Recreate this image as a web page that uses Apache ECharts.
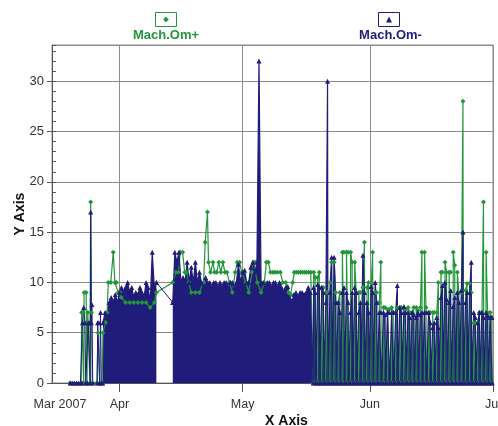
<!DOCTYPE html>
<html><head><meta charset="utf-8">
<script src="https://cdn.jsdelivr.net/npm/echarts@6/dist/echarts.min.js"></script>
<style>html,body{margin:0;padding:0;background:#fff}#c{width:498px;height:426px}</style>
</head><body><div id="c"></div>
<script>
// ---- data (x = days counted from 1 Mar 2007) ----
const seriesNames = ['Mach.Om+', 'Mach.Om-'];
const xTickLabels = ['Mar 2007', 'Apr', 'May', 'Jun', 'Jul'];
const xTickDays = [14.58, 31, 61, 92, 122];
const yMax = 33.6;

// Mach.Om+ : early spikes and the dense April / early-May part, [day, value]
const greenMain = [[19,0],[21.7,0],[21.8,7],[22.1,7],[22.3,0],[22.4,9],[22.9,9],[23.1,0],[23.3,7],[23.8,0],[24,18],[24.2,7],[24.4,0],[25.5,0],[25.8,5],[26.2,0],[26.8,0],
  [27,5],[27.6,6],[28,7],[28.3,10],[28.9,10],[29.5,13],[29.9,10],[30.3,10],[30.7,9],[31.1,9],[31.5,8.5],[32.5,8],[33.5,8],[34.5,8],[35.5,8],[36.5,8],[37.5,8],[38.5,7.5],[39.5,8],[40,9],
  [44,10],[44.8,11],[45.4,11],[45.8,13],[46.4,13],[46.9,11],[47.4,11],[47.9,10],[48.5,9],[49.5,9],[50.5,9],[51.5,10],[51.9,14],[52.45,17],[52.7,12],[53.2,11],[53.8,12],[54.2,11],[54.7,11],[55.2,12],[55.7,11],[56.2,12],[56.7,11],[57.2,11],[57.8,10],[58.5,9],[59.2,11],[59.7,12],[60.3,12],[60.8,11],[61.2,11],[61.8,10],[62.5,9],[63.3,11],[63.7,12],[64.1,12],[64.6,10],[65.5,9],[66.3,10],[66.8,12],[67.3,12],[67.8,11],[68.4,11],[68.9,11],[69.5,11],[70.2,11],[70.8,10],[71.5,10],[72.2,9],[72.7,8.8],[73.2,10],[73.6,11],[74.1,11],[74.6,11],[75.1,11],[75.6,11],[76.1,11],[76.6,11],[77.1,11],[77.6,11]];
// Mach.Om+ : daily readings from day 78 (17 May) to 121 (30 Jun), morning / evening
const sparseStartDay = 78;
const greenSparseA = [11,10.5,9.5,9,10,12,8,13,13,13,12,9,9.5,9.5,9.5,9,8,7.5,7.3,7.5,7,7.5,7.3,7.5,7,7.5,7.5,13,7,7,7,11,12,11,13,11,9,9.2,9.9,6,6,7,13,7];
const greenSparseB = [10.5,11,9.5,9,12,9,9,13,13,12,9,9,14,10,13,9,12,7.5,7.3,7,7.5,7.5,7.3,7,7.5,7.2,13,7.5,7,7,10,11,11,11,11.7,9,28,9.9,9,6,7,18,7,6.5];

// Mach.Om- : early spikes [day, value]
const blueEarly = [[19,0],[19.5,0],[20,0],[20.5,0],[21,0],[21.5,0],[21.9,0],[22,6],[22.3,7.5],[22.6,6],[22.8,0],[23.2,0],[23.4,6],[23.7,6],[23.9,0],[24,17],[24.15,6],[24.3,7.8],[24.5,0],[25.6,0],[25.7,6],[26,6],[26.2,0],[26.4,7],[26.6,0],[26.95,0]];
// Mach.Om- : dense half-day readings
const denseStep = 0.5;
const blueDenseAStart = 27;
const blueDenseA = [6,7,6.5,8,8.5,8,8.8,8,9,9.5,9,9.5,10,9,9.5,8.5,9,8.8,9.5,9,8.5,10,9.5,8,13,9.5,10];
const blueBridge = [[40,10],[44,8]];
const blueDenseBStart = 44;
const blueDenseB = [8,13,12,13,10,10.5,10,12,10,11.5,10,12,10,11,10,9.5,10.5,10,10,9.5,10,10,9.5,10,9.5,10,10,9.5,10,10,9.5,10,11.8,10,11,11.2,10,10,11.5,12,11,12,32,10,10,9.5,10,10,9.5,10,10,9.5,10,9.5,9,9.5,9.6,8.5,8,8.8,9,8.5,9,9,8.8,9,9.5,9];
// Mach.Om- : daily readings from day 78 to 121, morning / evening
const blueSparseA = [9.5,9.8,9.5,8,9,12.5,8,9,9,7,9.5,7,12.7,8,9.6,10,7,7,7,7,7,7.5,7.6,7,7,6.5,6.8,7,7,5.5,6.5,8.5,10,8,7.6,9,9.2,8,9,7,6,7,7,6.5];
const blueSparseB = [9,9.5,9,30,12.5,8,7,9.5,8,9,9,8,9,7,9,8,7,6.8,7,7,9.7,7,7,6.5,6.8,7,7,7,6,6,5.5,9.7,8.3,9.2,8.5,8,15,9,12,6.5,7,6.5,6.7,6.5];

// ---- build ----
const regular = (start, vals) => vals.map((v, i) => [start + i * denseStep, v]);
function daily(start, a, b, t) {
  const out = [];
  a.forEach((v, i) => {
    const d = start + i;
    out.push([d + t[0], 0], [d + t[1], v], [d + t[2], b[i]], [d + t[3], 0]);
  });
  return out;
}
const greenData = greenMain.concat(daily(sparseStartDay, greenSparseA, greenSparseB, [0.25, 0.32, 0.68, 0.75]));
const blueAreaData = regular(blueDenseAStart, blueDenseA).concat([[42, null]], regular(blueDenseBStart, blueDenseB), daily(sparseStartDay, blueSparseA, blueSparseB, [0.2, 0.3, 0.7, 0.8]));
const blueLineData = blueEarly.concat([[30, null]], blueBridge);

const GREEN = '#23963a', NAVY = '#201c7a';
const FONT = "'Liberation Sans Narrow', 'Liberation Sans', Arial, sans-serif";
const BFONT = "'Liberation Sans', Arial, sans-serif";

const chart = echarts.init(document.getElementById('c'), null, {renderer: 'canvas'});
chart.setOption({
  animation: false,
  backgroundColor: '#ffffff',
  grid: {left: 52, right: 5, top: 45, bottom: 43, show: true, borderColor: '#8c8c8c', borderWidth: 1, containLabel: false, outerBoundsMode: 'none'},
  legend: {
    left: 123, top: 24, icon: 'rect', itemWidth: 0, itemHeight: 0, itemGap: 155, padding: 5,
    selectedMode: false, itemStyle: {opacity: 0},
    data: [{name: seriesNames[0], textStyle: {color: GREEN}}, {name: seriesNames[1], textStyle: {color: NAVY}}],
    textStyle: {fontWeight: 'bold', fontSize: 13, fontFamily: BFONT}
  },
  graphic: [
    {type: 'rect', shape: {x: 155.5, y: 12.5, width: 21, height: 14}, style: {fill: '#fff', stroke: GREEN, lineWidth: 1}},
    {type: 'polygon', shape: {points: [[166, 16.5], [168.8, 19.5], [166, 22.5], [163.2, 19.5]]}, style: {fill: GREEN}},
    {type: 'rect', shape: {x: 378.5, y: 12.5, width: 21, height: 14}, style: {fill: '#fff', stroke: NAVY, lineWidth: 1}},
    {type: 'polygon', shape: {points: [[389, 16.5], [392, 22.5], [386, 22.5]]}, style: {fill: NAVY}}
  ],
  xAxis: {
    type: 'value', min: xTickDays[0], max: xTickDays[xTickDays.length - 1],
    axisLine: {show: true, lineStyle: {color: '#555', width: 1}},
    axisTick: {show: true, length: 9, lineStyle: {color: '#555'}, customValues: xTickDays.slice(1)},
    axisLabel: {
      customValues: xTickDays, margin: 15, color: '#333', fontSize: 12.5, fontFamily: FONT,
      formatter: function (v) {
        let best = 0;
        xTickDays.forEach((t, k) => { if (Math.abs(t - v) < Math.abs(xTickDays[best] - v)) best = k; });
        return best === 0 ? '{first|' + xTickLabels[0] + '}' : xTickLabels[best];
      },
      rich: {first: {padding: [0, 0, 0, 16], fontSize: 12.5, fontFamily: FONT, color: '#333'}}
    },
    splitLine: {show: true, lineStyle: {color: '#8c8c8c', width: 1}},
    name: 'X Axis', nameLocation: 'middle', nameGap: 31, nameMoveOverlap: false,
    nameTextStyle: {fontWeight: 'bold', fontSize: 14, color: '#111', fontFamily: BFONT, padding: [0, 0, 0, 28]}
  },
  yAxis: [
    {
      type: 'value', min: 0, max: yMax, interval: 5, position: 'left',
      axisLine: {show: true, lineStyle: {color: '#555'}},
      axisTick: {show: true, length: 5, lineStyle: {color: '#555'}},
      axisLabel: {color: '#333', fontSize: 13, fontFamily: FONT, margin: 8, showMaxLabel: false},
      splitLine: {show: true, lineStyle: {color: '#8c8c8c', width: 1}},
      name: 'Y Axis', nameLocation: 'middle', nameGap: 25, nameMoveOverlap: false,
      nameTextStyle: {fontWeight: 'bold', fontSize: 14, color: '#111', fontFamily: BFONT}
    },
    {
      type: 'value', min: 0, max: yMax, interval: 1, position: 'right', offset: -441,
      axisLine: {show: false}, axisTick: {show: true, inside: false, length: 4, lineStyle: {color: '#555'}},
      axisLabel: {show: false}, splitLine: {show: false}
    }
  ],
  series: [
    {name: seriesNames[0], type: 'line', yAxisIndex: 0, data: greenData, symbol: 'diamond', symbolSize: 5, showSymbol: true,
     lineStyle: {color: GREEN, width: 1.2}, itemStyle: {color: GREEN}, connectNulls: false, silent: true},
    {name: seriesNames[1], type: 'line', yAxisIndex: 0, data: blueAreaData, symbol: 'triangle', symbolSize: 5, showSymbol: true,
     lineStyle: {color: NAVY, width: 1.2}, itemStyle: {color: NAVY}, areaStyle: {color: NAVY, opacity: 1}, connectNulls: false, silent: true},
    {name: seriesNames[1], type: 'line', yAxisIndex: 0, data: blueLineData, symbol: 'triangle', symbolSize: 5, showSymbol: true,
     lineStyle: {color: NAVY, width: 1}, itemStyle: {color: NAVY}, connectNulls: false, silent: true}
  ]
});
</script>
</body></html>
